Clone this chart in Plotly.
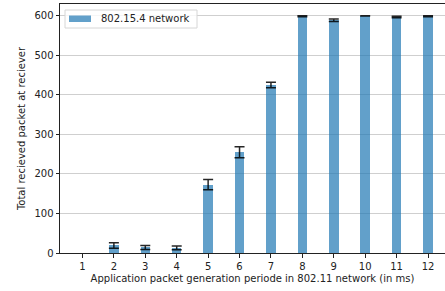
import plotly.graph_objects as go

periods = [1, 2, 3, 4, 5, 6, 7, 8, 9, 10, 11, 12]
received = [0, 19, 14, 13, 173, 255, 425, 599, 589, 600, 597, 599]
errors = [0, 7, 5, 5, 13, 14, 7, 1, 3, 0.5, 2, 1]
series_name = "802.15.4 network"

W, H = 445, 291
L, R, T, B = 60, 0, 4, 38
bar_color = "rgba(31,119,180,0.7)"

fig = go.Figure()
fig.add_trace(go.Bar(
    x=periods, y=received, width=0.3, name=series_name,
    marker=dict(color=bar_color, line=dict(width=0)),
    showlegend=False, hoverinfo="x+y",
))
# error bars (only where an error exists)
err_x = [p for p, e in zip(periods, errors) if e > 0]
err_y = [v for v, e in zip(received, errors) if e > 0]
err_e = [e for e in errors if e > 0]
fig.add_trace(go.Scatter(
    x=err_x, y=err_y, mode="markers", marker=dict(size=0.1, color="rgba(0,0,0,0)"),
    error_y=dict(type="data", array=err_e, visible=True,
                 color="rgba(0,0,0,0.85)", thickness=1.5, width=5),
    showlegend=False, hoverinfo="skip",
))

# legend drawn in paper coordinates (matplotlib-style box)
pw, ph = W - L - R, H - T - B
def px(xp):
    return (xp - L) / pw
def py(yp):
    return 1 - (yp - T) / ph

fig.add_shape(type="rect", xref="paper", yref="paper",
              x0=px(65), x1=px(197), y0=py(28), y1=py(10),
              line=dict(color="#d6d6d6", width=1), fillcolor="rgba(255,255,255,0.8)")
fig.add_shape(type="rect", xref="paper", yref="paper",
              x0=px(69), x1=px(91), y0=py(22), y1=py(15.5),
              line=dict(width=0), fillcolor=bar_color)
fig.add_annotation(xref="paper", yref="paper", x=px(99), y=py(19),
                   xanchor="left", yanchor="middle", showarrow=False,
                   text=series_name, font=dict(size=10, color="#222"))

fig.update_layout(
    width=W, height=H,
    margin=dict(l=L, r=R, t=T, b=B, autoexpand=False),
    paper_bgcolor="white", plot_bgcolor="white",
    font=dict(family="DejaVu Sans", size=10, color="#222"),
    showlegend=False,
    bargap=0,
)
fig.update_xaxes(
    range=[0.285, 12.54], tickmode="array", tickvals=periods,
    ticktext=[str(p) for p in periods], automargin=False,
    showline=True, linecolor="#222", linewidth=1, mirror=True,
    ticks="outside", ticklen=3.5, tickcolor="#222", showgrid=False,
    title=dict(text="Application packet generation periode in 802.11 network (in ms)",
               standoff=4, font=dict(size=10)),
)
fig.update_yaxes(
    range=[0, 630], tickvals=[0, 100, 200, 300, 400, 500, 600], automargin=False,
    showline=True, linecolor="#222", linewidth=1,
    ticks="outside", ticklen=3.5, tickcolor="#222",
    showgrid=True, gridcolor="#cfcfcf", gridwidth=1, zeroline=False,
    title=dict(text="Total recieved packet at reciever", standoff=6, font=dict(size=10)),
)

fig.write_html("out.html", config={"displayModeBar": False},
               post_script="document.body.style.margin='0';document.body.style.overflow='hidden';")
